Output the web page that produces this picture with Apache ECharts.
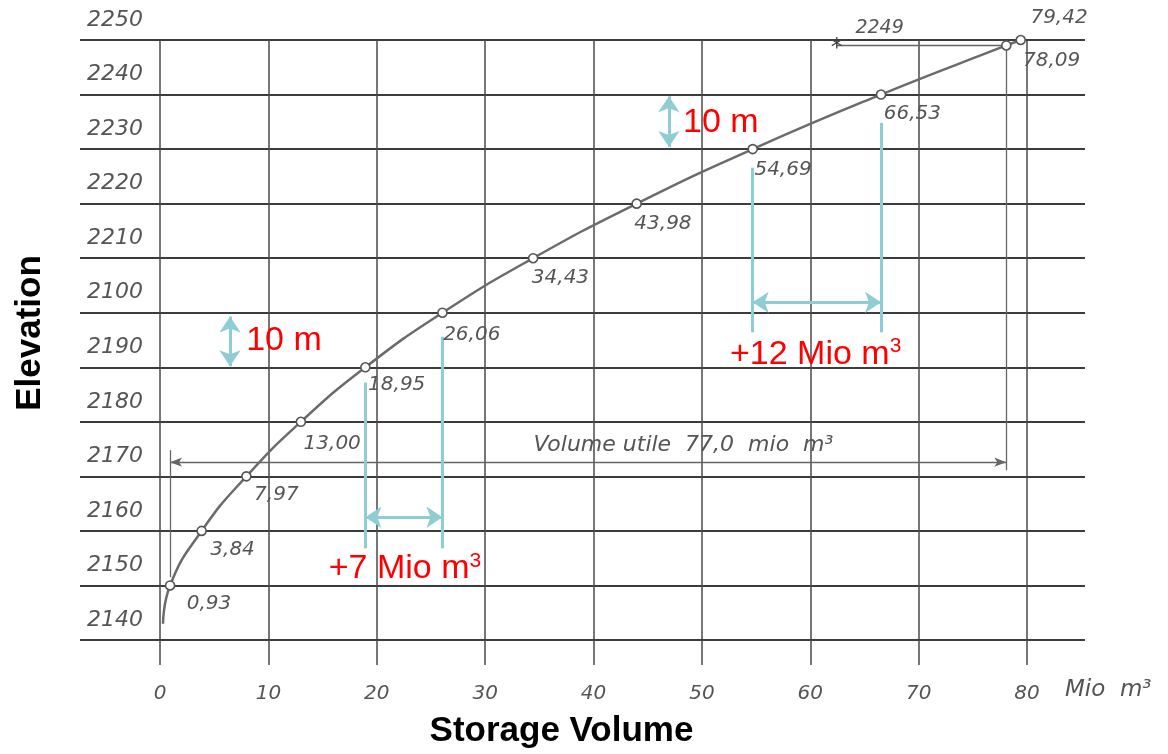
<!DOCTYPE html>
<html>
<head>
<meta charset="utf-8">
<script src="https://cdn.jsdelivr.net/npm/echarts@6/dist/echarts.min.js"></script>
<style>
html,body{margin:0;padding:0;background:#fff;}
#chart{width:1168px;height:754px;}
</style>
</head>
<body>
<div id="chart"></div>
<script>
// ---------- data ----------
const volumes    = [0.28, 0.93, 3.84, 7.97, 13.00, 18.95, 26.06, 34.43, 43.98, 54.69, 66.53, 78.09, 79.42];
const elevations = [2143, 2150, 2160, 2170, 2180, 2190, 2200, 2210, 2220, 2230, 2240, 2249, 2250];
const pointLabels = ['', '0,93', '3,84', '7,97', '13,00', '18,95', '26,06', '34,43', '43,98', '54,69', '66,53', '78,09', '79,42'];
const xTickLabels = ['0', '10', '20', '30', '40', '50', '60', '70', '80'];
const yTickLabels = ['2140', '2150', '2160', '2170', '2180', '2190', '2100', '2210', '2220', '2230', '2240', '2250'];

// annotation geometry in data units
const utileVolumeFrom = 0.93, utileVolumeTo = 78.09, utileLevel = 2172.6;
const crest = 2249, crestMarkVolume = 62.45;
const lowPair = [18.95, 26.06], lowPairTops = [2187.2, 2195.6], lowPairBottom = 2156.8, lowArrowLevel = 2162.5;
const highPair = [54.69, 66.53], highPairTops = [2226.6, 2234.8], highPairBottom = 2196.4, highArrowLevel = 2201.9;
const tenMetreLow = {x: 6.46, from: 2190.2, to: 2199.3};
const tenMetreHigh = {x: 46.96, from: 2230.4, to: 2239.7};

// ---------- styles ----------
const scanFont = 'DejaVu Sans';
const grey = '#555';
const cyan = '#8ecdd4';
const red = '#ff0000';
const labelOffsets = [[0,0],[22,24],[14,24],[13,24],[8,27],[8,23],[6,27],[4,25],[3,25],[7,26],[8,25],[22,21],[15,-17]];

const curveData = volumes.map((v, i) => ({
  value: [v, elevations[i]],
  symbol: i === 0 ? 'none' : 'circle',
  label: {show: pointLabels[i] !== '', formatter: pointLabels[i], position: labelOffsets[i]}
}));

const cyanLine = {lineStyle: {color: cyan, width: 3, type: 'solid'}, symbol: ['none', 'none'], symbolSize: 1};
const cyanArrow = {lineStyle: {color: cyan, width: 3, type: 'solid'}, symbol: ['arrow', 'arrow'], symbolSize: [16, 16]};
const greyLine = {lineStyle: {color: '#666', width: 1.3, type: 'solid'}, symbol: ['none', 'none'], symbolSize: 1};
const greyArrow = {lineStyle: {color: '#666', width: 1.3, type: 'solid'}, symbol: ['arrow', 'arrow'], symbolSize: [7, 12]};

function seg(a, b, style) {
  return [
    {coord: a, symbol: style.symbol[0], symbolSize: style.symbolSize, lineStyle: style.lineStyle, itemStyle: {color: style.lineStyle.color}},
    {coord: b, symbol: style.symbol[1], symbolSize: style.symbolSize, itemStyle: {color: style.lineStyle.color}}
  ];
}

const redRich = {
  a: {fontFamily: 'Liberation Sans, Arial', fontSize: 34, color: red},
  s: {fontFamily: 'Liberation Sans, Arial', fontSize: 21, color: red, padding: [0, 0, 16, 0]}
};
function textPoint(coord, text, style) {
  return {coord: coord, symbolSize: 0, label: Object.assign({show: true, position: 'inside', formatter: text}, style)};
}
const redStyle = {rich: redRich};
const greyStyle = {fontFamily: scanFont, fontStyle: 'italic', fontSize: 21, color: grey};

const chart = echarts.init(document.getElementById('chart'), null, {renderer: 'canvas'});
chart.setOption({
  backgroundColor: '#fff',
  animation: false,
  grid: {left: 160, right: 141, top: 39, bottom: 114, containLabel: false},
  xAxis: [{
    type: 'value', min: 0, max: 80, interval: 10,
    name: 'Storage Volume', nameLocation: 'middle', nameGap: 74,
    nameTextStyle: {fontFamily: 'Liberation Sans, Arial', fontWeight: 'bold', fontSize: 35, color: '#000', padding: [0, 64, 0, 0]},
    axisLine: {show: true, onZero: false, lineStyle: {color: '#3c3c3c', width: 2}},
    axisTick: {show: true, length: 25, lineStyle: {color: '#4a4a4a', width: 1.5}},
    splitLine: {show: true, lineStyle: {color: '#4a4a4a', width: 1.5}},
    axisLabel: {margin: 44, fontFamily: scanFont, fontStyle: 'italic', fontSize: 20, color: grey,
      formatter: (v) => xTickLabels[Math.round(v / 10)]}
  }, {
    type: 'value', min: 0, max: 80, interval: 10, position: 'bottom', offset: 50,
    name: 'Mio  m³', nameLocation: 'end', nameGap: 38,
    nameTextStyle: {fontFamily: scanFont, fontStyle: 'italic', fontSize: 23, color: grey},
    axisLine: {show: false, onZero: false}, axisTick: {show: false}, axisLabel: {show: false}, splitLine: {show: false}
  }],
  yAxis: [{
    type: 'value', min: 2140, max: 2250, interval: 10, position: 'left',
    name: 'Elevation', nameLocation: 'middle', nameGap: 112, nameRotate: 90,
    nameTextStyle: {fontFamily: 'Liberation Sans, Arial', fontWeight: 'bold', fontSize: 35, color: '#000', padding: [0, 0, 0, 14]},
    axisLine: {show: false, onZero: false},
    axisTick: {show: true, length: 80, lineStyle: {color: '#3c3c3c', width: 2}},
    splitLine: {show: true, lineStyle: {color: '#3c3c3c', width: 2}},
    axisLabel: {margin: 17, verticalAlign: 'bottom', lineHeight: 40, fontFamily: scanFont, fontStyle: 'italic', fontSize: 22, color: grey,
      formatter: (v) => yTickLabels[Math.round((v - 2140) / 10)]}
  }, {
    type: 'value', min: 2140, max: 2250, interval: 10, position: 'right', alignTicks: false,
    axisLine: {show: false, onZero: false},
    axisTick: {show: true, inside: false, length: 58, lineStyle: {color: '#3c3c3c', width: 2}},
    splitLine: {show: false}, axisLabel: {show: false}
  }],
  series: [{
    type: 'line',
    data: curveData,
    smooth: 0.5,
    symbolSize: 9,
    showSymbol: true,
    lineStyle: {color: '#6b6b6b', width: 2.5},
    itemStyle: {color: '#fff', borderColor: '#555', borderWidth: 1.6},
    label: {show: true, align: 'left', verticalAlign: 'middle', fontFamily: scanFont, fontStyle: 'italic', fontSize: 20, color: grey},
    z: 5
  }, {
    type: 'line',
    yAxisIndex: 1,
    xAxisIndex: 0,
    data: [],
    silent: true,
    markLine: {
      silent: true, animation: false,
      symbol: ['none', 'none'],
      label: {show: false},
      emphasis: {disabled: true},
      data: [
        seg([utileVolumeFrom, utileLevel], [utileVolumeTo, utileLevel], greyArrow),
        seg([utileVolumeFrom, 2151.5], [utileVolumeFrom, 2174.8], greyLine),
        seg([utileVolumeTo, 2171.1], [utileVolumeTo, 2250], greyLine),
        seg([crestMarkVolume, crest], [utileVolumeTo, crest], greyLine),
        seg([lowPair[0], lowPairTops[0]], [lowPair[0], lowPairBottom], cyanLine),
        seg([lowPair[1], lowPairTops[1]], [lowPair[1], lowPairBottom], cyanLine),
        seg([lowPair[0], lowArrowLevel], [lowPair[1], lowArrowLevel], cyanArrow),
        seg([highPair[0], highPairTops[0]], [highPair[0], highPairBottom], cyanLine),
        seg([highPair[1], highPairTops[1]], [highPair[1], highPairBottom], cyanLine),
        seg([highPair[0], highArrowLevel], [highPair[1], highArrowLevel], cyanArrow),
        seg([tenMetreLow.x, tenMetreLow.from], [tenMetreLow.x, tenMetreLow.to], cyanArrow),
        seg([tenMetreHigh.x, tenMetreHigh.from], [tenMetreHigh.x, tenMetreHigh.to], cyanArrow)
      ]
    },
    markPoint: {
      silent: true, animation: false,
      data: [
        textPoint([11.44, 2194.9], '{a|10 m}', redStyle),
        textPoint([51.75, 2234.8], '{a|10 m}', redStyle),
        textPoint([22.6, 2153.0], '{a|+7 Mio m}{s|3}', redStyle),
        textPoint([60.5, 2192.4], '{a|+12 Mio m}{s|3}', redStyle),
        textPoint([48.3, 2175.7], 'Volume utile  77,0  mio  m³', Object.assign({}, greyStyle, {fontSize: 22})),
        textPoint([66.4, 2250], '2249', Object.assign({}, greyStyle, {fontSize: 19, offset: [0, -12]})),
        textPoint([crestMarkVolume, crest], '*', Object.assign({}, greyStyle, {fontSize: 24, fontStyle: 'normal', color: '#444', offset: [0, 3]}))
      ]
    }
  }]
});
</script>
</body>
</html>
